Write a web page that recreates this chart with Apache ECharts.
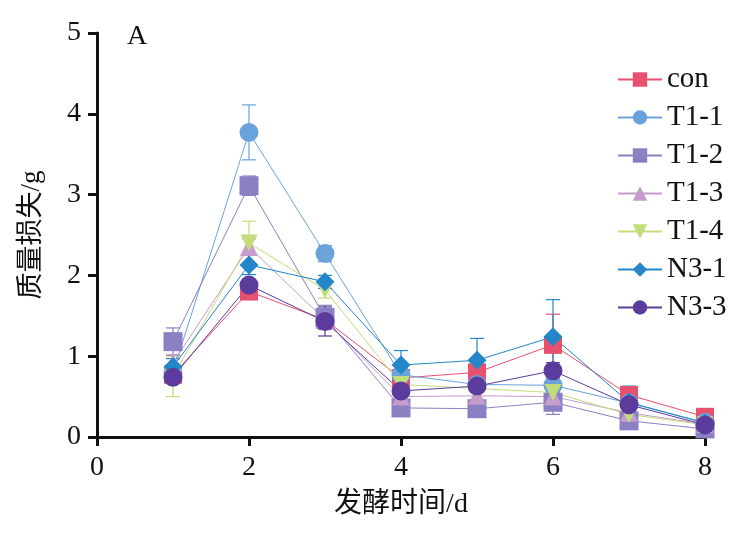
<!DOCTYPE html>
<html>
<head>
<meta charset="utf-8">
<script src="https://cdn.jsdelivr.net/npm/echarts@6/dist/echarts.min.js"></script>
<style>
  html, body { margin: 0; padding: 0; background: #fff; }
  #chart { width: 747px; height: 533px; }
</style>
</head>
<body>
<div id="chart"></div>
<script>
// 发酵时间 (d)
const days = [1, 2, 3, 4, 5, 6, 7, 8]
const names = ['con', 'T1-1', 'T1-2', 'T1-3', 'T1-4', 'N3-1', 'N3-3']

// 质量损失 (g)
const con = [0.77, 1.80, 1.45, 0.73, 0.80, 1.14, 0.52, 0.25]
const t11 = [0.80, 3.77, 2.27, 0.77, 0.65, 0.64, 0.42, 0.18]
const t12 = [1.18, 3.11, 1.48, 0.36, 0.35, 0.43, 0.20, 0.10]
const t13 = [0.92, 2.35, 1.45, 0.50, 0.51, 0.50, 0.30, 0.16]
const t14 = [0.75, 2.40, 1.82, 0.65, 0.60, 0.55, 0.28, 0.15]
const n31 = [0.87, 2.13, 1.92, 0.89, 0.95, 1.24, 0.43, 0.17]
const n33 = [0.74, 1.88, 1.43, 0.57, 0.63, 0.82, 0.40, 0.15]

// 误差
const conErr = [0.05, 0.05, 0.05, 0.05, 0.05, 0.38, 0.05, 0.03]
const t11Err = [0.05, 0.34, 0.10, 0.05, 0.05, 0.05, 0.05, 0.03]
const t12Err = [0.17, 0.12, 0.15, 0.03, 0.03, 0.15, 0.03, 0.03]
const t13Err = [0.10, 0.10, 0.10, 0.05, 0.05, 0.05, 0.05, 0.03]
const t14Err = [0.25, 0.27, 0.10, 0.05, 0.05, 0.05, 0.05, 0.03]
const n31Err = [0.10, 0.12, 0.08, 0.18, 0.27, 0.46, 0.20, 0.03]
const n33Err = [0.05, 0.05, 0.18, 0.05, 0.05, 0.10, 0.05, 0.03]

const groups = [
  { values: con, err: conErr, color: '#e8506e', symbol: 'rect', size: 18 },
  { values: t11, err: t11Err, color: '#6aa3dc', symbol: 'circle', size: 19 },
  { values: t12, err: t12Err, color: '#8b80c4', symbol: 'rect', size: 19 },
  { values: t13, err: t13Err, color: '#c59ccc', symbol: 'triangle', size: 18 },
  { values: t14, err: t14Err, color: '#c2dc7a', symbol: 'path://M0,0 L10,0 L5,9 Z', size: 17 },
  { values: n31, err: n31Err, color: '#2286c8', symbol: 'diamond', size: 19 },
  { values: n33, err: n33Err, color: '#5b3b9b', symbol: 'circle', size: 19 }
]

const serif = '"Liberation Serif", "Noto Sans CJK SC", serif'

const myChart = echarts.init(document.getElementById('chart'))

const series = []
groups.forEach((g, i) => {
  // 误差线
  series.push({
    type: 'custom',
    silent: true,
    z: 1,
    data: days.map((d, k) => [d, g.values[k], g.err[k]]),
    renderItem: function (params, api) {
      const x = api.value(0)
      const y = api.value(1)
      const e = api.value(2)
      const top = api.coord([x, y + e])
      const bot = api.coord([x, Math.max(0, y - e)])
      const w = 7
      const style = { stroke: g.color, lineWidth: 1.2 }
      return {
        type: 'group',
        children: [
          { type: 'line', shape: { x1: top[0], y1: top[1], x2: bot[0], y2: bot[1] }, style: style },
          { type: 'line', shape: { x1: top[0] - w, y1: top[1], x2: top[0] + w, y2: top[1] }, style: style },
          { type: 'line', shape: { x1: bot[0] - w, y1: bot[1], x2: bot[0] + w, y2: bot[1] }, style: style }
        ]
      }
    }
  })
  series.push({
    name: names[i],
    type: 'line',
    z: 3,
    data: days.map((d, k) => [d, g.values[k]]),
    symbol: g.symbol,
    symbolSize: g.size,
    showAllSymbol: true,
    color: g.color,
    lineStyle: { width: 1, color: g.color },
    itemStyle: { color: g.color, opacity: 1 }
  })
})

const option = {
  animation: false,
  backgroundColor: '#fff',
  grid: { left: 97, right: 42, top: 33, bottom: 96 },
  title: {
    text: 'A',
    left: 122,
    top: 18,
    textStyle: { fontFamily: serif, fontWeight: 'normal', fontSize: 28, color: '#111' }
  },
  legend: {
    data: names,
    orient: 'vertical',
    left: 612,
    top: 60,
    itemGap: 9,
    itemWidth: 44,
    itemHeight: 18,
    textStyle: { fontFamily: serif, fontSize: 29, color: '#111', padding: [0, 0, 0, 0] }
  },
  xAxis: {
    type: 'value',
    min: 0,
    max: 8,
    interval: 2,
    name: '发酵时间/d',
    nameLocation: 'middle',
    nameGap: 54,
    nameTextStyle: { fontFamily: serif, fontSize: 28, color: '#111' },
    axisLine: { lineStyle: { color: '#111', width: 3 } },
    axisTick: { show: true, length: 9, lineStyle: { color: '#111', width: 3 } },
    axisLabel: { fontFamily: serif, fontSize: 28, color: '#111', margin: 17 },
    splitLine: { show: false }
  },
  yAxis: {
    type: 'value',
    min: 0,
    max: 5,
    interval: 1,
    name: '质量损失/g',
    nameLocation: 'middle',
    nameGap: 52,
    nameRotate: 90,
    nameTextStyle: { fontFamily: serif, fontSize: 27, color: '#111' },
    axisLine: { show: true, lineStyle: { color: '#111', width: 3 } },
    axisTick: { show: true, length: 9, lineStyle: { color: '#111', width: 3 } },
    axisLabel: { fontFamily: serif, fontSize: 28, color: '#111', margin: 16 },
    splitLine: { show: false }
  },
  series: series
}

myChart.setOption(option)
</script>
</body>
</html>
